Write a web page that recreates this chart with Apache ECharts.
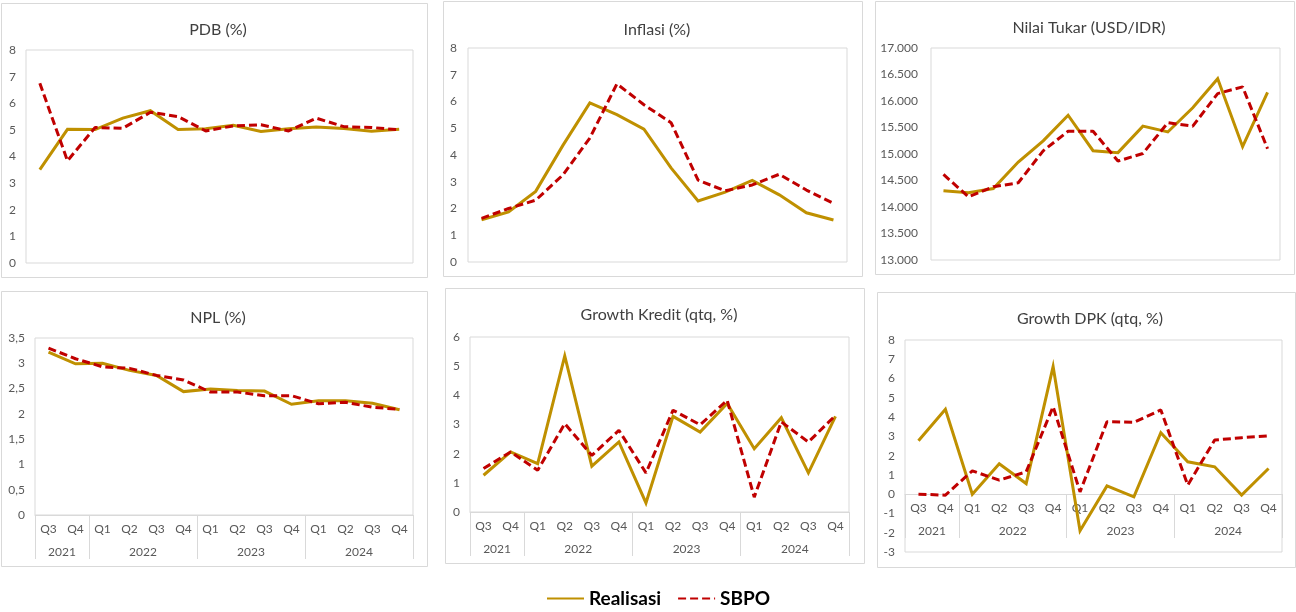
<!DOCTYPE html>
<html>
<head>
<meta charset="utf-8">
<script src="https://cdn.jsdelivr.net/npm/echarts@6/dist/echarts.min.js"></script>
<style>
html,body{margin:0;padding:0;background:#fff;}
#chart{width:1296px;height:612px;}
</style>
</head>
<body>
<div id="chart"></div>
<script>
// ---- Data ----
const quarters = ['Q3','Q4','Q1','Q2','Q3','Q4','Q1','Q2','Q3','Q4','Q1','Q2','Q3','Q4'];
const years = ['2021','2022','2023','2024'];
const yearSpan = [2, 4, 4, 4];
const seriesNames = ['Realisasi', 'SBPO'];

const pdbReal = [3.51, 5.02, 5.01, 5.44, 5.72, 5.01, 5.04, 5.17, 4.94, 5.04, 5.11, 5.05, 4.95, 5.02];
const pdbSbpo = [6.75, 3.84, 5.09, 5.06, 5.66, 5.50, 4.96, 5.15, 5.19, 4.96, 5.44, 5.12, 5.09, 5.00];

const inflReal = [1.58, 1.87, 2.64, 4.35, 5.95, 5.51, 4.97, 3.52, 2.28, 2.61, 3.05, 2.51, 1.84, 1.57];
const inflSbpo = [1.63, 2.00, 2.31, 3.25, 4.63, 6.66, 5.88, 5.21, 3.06, 2.66, 2.88, 3.28, 2.69, 2.19];

const kursReal = [14307, 14269, 14349, 14848, 15247, 15731, 15062, 15026, 15526, 15416, 15873, 16421, 15138, 16162];
const kursSbpo = [14614, 14193, 14382, 14457, 15060, 15430, 15430, 14867, 15010, 15590, 15525, 16140, 16266, 15100];

const nplReal = [3.22, 2.99, 3.00, 2.86, 2.76, 2.44, 2.49, 2.46, 2.45, 2.19, 2.26, 2.26, 2.21, 2.08];
const nplSbpo = [3.30, 3.09, 2.93, 2.90, 2.76, 2.67, 2.43, 2.43, 2.36, 2.36, 2.20, 2.23, 2.13, 2.09];

const kreditReal = [1.26, 2.06, 1.66, 5.35, 1.57, 2.40, 0.31, 3.28, 2.74, 3.72, 2.17, 3.23, 1.34, 3.28];
const kreditSbpo = [1.49, 2.06, 1.43, 3.03, 1.94, 2.80, 1.34, 3.49, 2.99, 3.83, 0.51, 3.09, 2.40, 3.31];

const dpkReal = [2.77, 4.40, 0.00, 1.58, 0.55, 6.62, -1.90, 0.43, -0.14, 3.19, 1.68, 1.42, -0.05, 1.33];
const dpkSbpo = [0.00, -0.05, 1.21, 0.73, 1.16, 4.54, 0.12, 3.76, 3.73, 4.37, 0.47, 2.81, 2.93, 3.03];

const titles = ['PDB (%)', 'Inflasi (%)', 'Nilai Tukar (USD/IDR)', 'NPL (%)', 'Growth Kredit (qtq, %)', 'Growth DPK (qtq, %)'];

// ---- Layout / style ----
const FONT = 'Lato, "Noto Sans", sans-serif';
const GOLD = '#BF9000';
const RED = '#C00000';
const BORDER = '#D9D9D9';
const LABEL = '#595959';

const yearBounds = [0];
yearSpan.forEach(s => yearBounds.push(yearBounds[yearBounds.length - 1] + s));
const yearCenters = yearSpan.map((s, i) => yearBounds[i] + s / 2);

function fmtComma(v){ return String(v).replace('.', ','); }
function fmtThousand(v){ return String(v).replace(/\B(?=(\d{3})+(?!\d))/g, '.'); }

const panels = [
  {frame:[1,3,426,274], title:[213,17], grid:[26,50,387,213], ymin:0, ymax:8, yint:1, margin:10, fmt:null, real:pdbReal, sbpo:pdbSbpo, cat:false},
  {frame:[443,1,419,275], title:[652,17], grid:[468,48,379,214], ymin:0, ymax:8, yint:1, margin:11, fmt:null, real:inflReal, sbpo:inflSbpo, cat:false},
  {frame:[875,1,419,273], title:[1084,15], grid:[931,48,349,212], ymin:13000, ymax:17000, yint:500, margin:13, fmt:fmtThousand, real:kursReal, sbpo:kursSbpo, cat:false},
  {frame:[1,291,426,275], title:[213,305], grid:[35,338,378,177], ymin:0, ymax:3.5, yint:0.5, margin:10, fmt:fmtComma, real:nplReal, sbpo:nplSbpo, cat:true, axOff:0},
  {frame:[445,288,419,275], title:[654,302], grid:[470,337,379,175], ymin:0, ymax:6, yint:1, margin:10, fmt:null, real:kreditReal, sbpo:kreditSbpo, cat:true, axOff:0},
  {frame:[877,292,418,275], title:[1085,306], grid:[905,340,377,212], ymin:-3, ymax:8, yint:1, margin:10, fmt:null, real:dpkReal, sbpo:dpkSbpo, cat:true, axOff:-58}
];

const option = {
  animation: false,
  backgroundColor: '#fff',
  textStyle: {fontFamily: FONT},
  title: [], grid: [], xAxis: [], yAxis: [], series: [],
  graphic: [],
  legend: {
    data: seriesNames,
    left: 541, top: 584,
    itemWidth: 37, itemHeight: 14, itemGap: 16,
    itemStyle: {opacity: 0},
    textStyle: {fontFamily: FONT, fontSize: 19, fontWeight: 'bold', color: '#000'}
  }
};

panels.forEach((p, i) => {
  option.graphic.push({
    type: 'rect', z: -10, silent: true,
    shape: {x: p.frame[0] + 0.5, y: p.frame[1] + 0.5, width: p.frame[2], height: p.frame[3]},
    style: {fill: '#fff', stroke: BORDER, lineWidth: 1}
  });
  option.title.push({
    text: titles[i], left: p.title[0], top: p.title[1], textAlign: 'center',
    textStyle: {fontFamily: FONT, fontSize: 16, fontWeight: 'normal', color: '#404040'}
  });
  option.grid.push({
    left: p.grid[0], top: p.grid[1], width: p.grid[2], height: p.grid[3],
    show: true, borderColor: BORDER, borderWidth: 1, backgroundColor: 'transparent'
  });
  const qIdx = option.xAxis.length;
  option.xAxis.push({
    type: 'category', gridIndex: i, data: quarters, boundaryGap: true,
    show: p.cat, position: 'bottom', offset: p.axOff || 0,
    axisLine: {show: true, onZero: false, lineStyle: {color: BORDER, width: 1}},
    axisTick: {show: false},
    axisLabel: {interval: 0, margin: 8, fontFamily: FONT, fontSize: 12, color: LABEL},
    splitLine: {show: false}
  });
  if (p.cat) {
    option.xAxis.push({
      type: 'value', gridIndex: i, min: 0, max: quarters.length, position: 'bottom', offset: p.axOff || 0,
      axisLine: {show: false, onZero: false},
      axisTick: {show: true, inside: false, length: 44, customValues: yearBounds, lineStyle: {color: BORDER, width: 1}},
      axisLabel: {show: true, margin: 31, customValues: yearCenters, fontFamily: FONT, fontSize: 12, color: LABEL,
        formatter: v => { const k = yearCenters.indexOf(v); return k >= 0 ? years[k] : ''; }},
      splitLine: {show: false}
    });
  }
  option.yAxis.push({
    type: 'value', gridIndex: i, min: p.ymin, max: p.ymax, interval: p.yint,
    axisLine: {show: false}, axisTick: {show: false}, splitLine: {show: false},
    axisLabel: {margin: p.margin, fontFamily: FONT, fontSize: 12, color: LABEL,
      formatter: p.fmt ? (v => p.fmt(v)) : (v => String(v))}
  });
  option.series.push({
    name: seriesNames[0], type: 'line', xAxisIndex: qIdx, yAxisIndex: i,
    data: p.real, symbol: 'none', z: 3,
    lineStyle: {color: GOLD, width: 3, join: 'miter'}, itemStyle: {color: GOLD}
  });
  option.series.push({
    name: seriesNames[1], type: 'line', xAxisIndex: qIdx, yAxisIndex: i,
    data: p.sbpo, symbol: 'none', z: 4,
    lineStyle: {color: RED, width: 3, type: [8, 4]}, itemStyle: {color: RED}
  });
});

const chart = echarts.init(document.getElementById('chart'), null, {renderer: 'canvas'});
chart.setOption(option);
</script>
</body>
</html>
